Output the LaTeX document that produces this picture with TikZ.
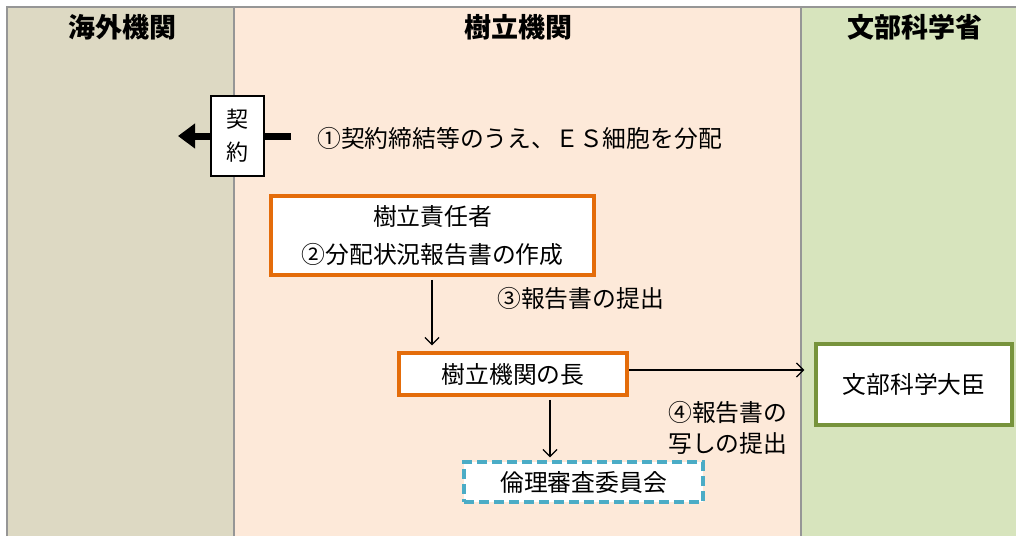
\documentclass[tikz,border=0pt]{standalone}
\usepackage{fontspec}
\setmainfont{Noto Sans CJK JP}
\usetikzlibrary{arrows.meta}
\definecolor{colL}{HTML}{DDD9C3}
\definecolor{colM}{HTML}{FDE9D9}
\definecolor{colR}{HTML}{D7E4BD}
\definecolor{bordergray}{HTML}{969696}
\definecolor{orangeb}{HTML}{E46C0A}
\definecolor{blueb}{HTML}{4BACC6}
\definecolor{greenb}{HTML}{77933C}
\tikzset{
  header/.style={font=\fontsize{27}{30}\selectfont\bfseries, anchor=center},
  txt/.style={font=\fontsize{23.8}{38}\selectfont, align=center},
  lbl/.style={font=\fontsize{23.8}{31}\selectfont, anchor=west, inner sep=0pt},
  orangebox/.style={draw=orangeb, line width=3.5pt, fill=white, txt, inner sep=0pt},
  bluebox/.style={draw=blueb, line width=3.5pt, dash pattern=on 10pt off 5pt, fill=white, txt, inner sep=0pt},
  greenbox/.style={draw=greenb, line width=3.5pt, fill=white, txt, inner sep=0pt},
  thinarrow/.style={-{Straight Barb[length=7pt,width=14pt]}, line width=1.2pt},
  divider/.style={draw=bordergray, line width=1.8pt}
}
\begin{document}
\begin{tikzpicture}[x=1pt,y=-1pt]
\useasboundingbox (0,0) rectangle (1016,536);
\fill[white] (0,0) rectangle (1016,536);
\fill[colL] (7,7) rectangle (234,536);
\fill[colM] (234,7) rectangle (801,536);
\fill[colR] (801,7) rectangle (1016,536);
\draw[divider] (7,536) -- (7,7) -- (1016,7);
\draw[divider] (234,7) -- (234,536);
\draw[divider] (801,7) -- (801,536);

\node[header] (h1) at (122,27) {海外機関};
\node[header] (h2) at (518,27) {樹立機関};
\node[header] (h3) at (915,27) {文部科学省};

% contract arrow
\coordinate (cs) at (291,136);
\coordinate (ce) at (178,136);
\draw[line width=7pt, -{Triangle[length=17pt,width=24pt]}] (cs) -- (ce);
\node[draw=black, line width=1.2pt, fill=white, minimum width=53pt, minimum height=80pt, inner sep=0pt,
      font=\fontsize{22}{33}\selectfont, align=center] (kei) at (237.5,136) {契\\約};
\node[lbl] (l1) at (317,138) {①契約締結等のうえ、ＥＳ細胞を分配};

\node[orangebox, minimum width=323pt, minimum height=79pt] (b1) at (432.5,235.5) {樹立責任者\\②分配状況報告書の作成};
\node[orangebox, minimum width=228pt, minimum height=42pt] (b2) at (513,374) {樹立機関の長};
\node[bluebox, minimum width=239pt, minimum height=40pt] (b3) at (583.5,482) {倫理審査委員会};
\node[greenbox, minimum width=196pt, minimum height=81pt] (b4) at (914,384.5) {文部科学大臣};

\draw[thinarrow, shorten <=3pt, shorten >=6pt] (b1.south -| 432,0) -- (b2.north -| 432,0);
\node[lbl] (l3) at (497,298) {③報告書の提出};
\draw[thinarrow, shorten >=10pt] (b2.east |- 0,370) -- (b4.west |- 0,370);
\draw[thinarrow, shorten <=3pt, shorten >=3pt] (b2.south -| 550,0) -- (b3.north -| 550,0);
\node[lbl, align=left] (l4) at (668,428) {④報告書の\\写しの提出};
\end{tikzpicture}
\end{document}
